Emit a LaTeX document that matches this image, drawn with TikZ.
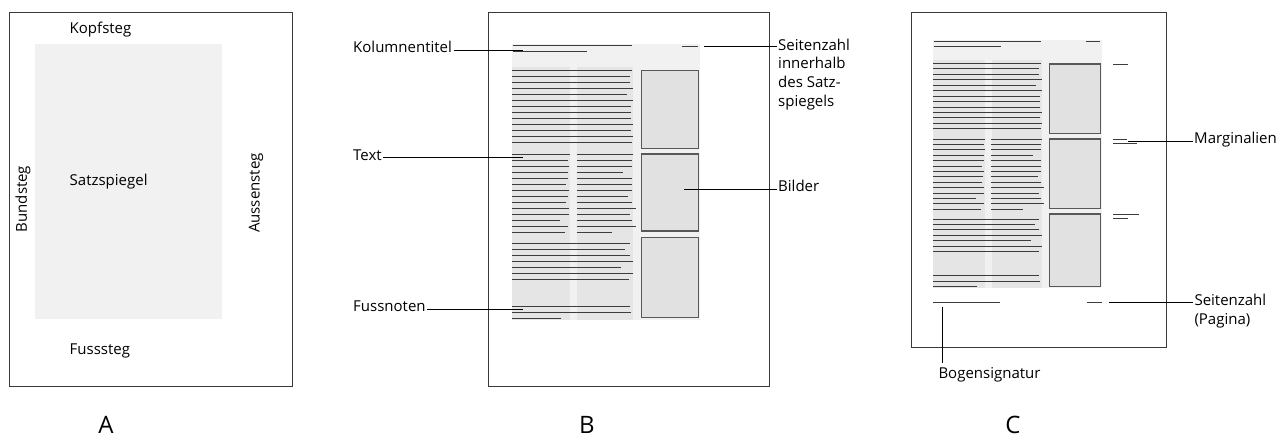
\documentclass[tikz,border=0pt]{standalone}
\usepackage{fontspec}
\setmainfont{Open Sans}
\usepackage{tikz}
\usetikzlibrary{positioning}
\usetikzlibrary{calc}

\definecolor{framegray}{HTML}{3A3A3A}
\definecolor{areagray}{HTML}{F1F1F1}
\definecolor{colgray}{HTML}{E5E5E5}
\definecolor{picgray}{HTML}{E1E1E1}
\definecolor{linegray}{HTML}{3C3C3C}

\tikzset{
  pageframe/.style={draw=framegray, line width=0.9pt},
  textline/.style={draw=linegray, line width=1.0pt},
  picbox/.style={draw=framegray!85, fill=picgray, line width=1.1pt},
  leader/.style={draw=black, line width=0.7pt},
  callout/.style={font=\fontsize{15}{18.7}\selectfont, inner sep=1.5pt},
  panelname/.style={font=\fontsize{24}{28}\selectfont, inner sep=0pt},
}

% Satzspiegel mit Kopfzeile, Text, Fussnoten und Bildern (Masse von Seite B)
\newcommand\satzblock{%
  % Flaeche und Spalten
  \fill[areagray] (0,0) rectangle (188,276);
  \fill[colgray] (0,22.7) rectangle (58,276);
  \fill[colgray] (65,22.7) rectangle (121,276);

  % Kopfzeile
  \draw[textline] (0.7,1.7) -- (119.7,1.7);
  \draw[textline] (0.7,7.3) -- (75,7.3);
  \draw[textline] (170,2) -- (186,2);

  % Text ueber beide Spalten
  \foreach \e [count=\i from 0] in {119.7,118,118,121.3,114.7,121.3,119,119,119,121.3,119,121.3,119.7}
    \draw[textline] (0,{26+6.06*\i}) -- (\e,{26+6.06*\i});

  % Text in zwei Spalten
  \foreach \a/\b [count=\i from 0] in {58/121,56.3/119.7,57.3/119.7,56.3/111.3,56.3/120.3,54/119.7,57/120.3,
                                       56/116.3,54.3/120.3,57/123.7,57/117.7,48/119.7,56.3/123.7,53.3/100.3}
  {
    \draw[textline] (0,{110+6*\i}) -- (\a,{110+6*\i});
    \draw[textline] (64.7,{110+6*\i}) -- (\b,{110+6*\i});
  }

  \foreach \e [count=\i from 0] in {118,113,118,121.3,109.3,121.3,117.3}
    \draw[textline] (0,{199+6*\i}) -- (\e,{199+6*\i});

  % Fussnoten
  \foreach \e [count=\i from 0] in {118,119,49}
    \draw[textline] (0,{262+6*\i}) -- (\e,{262+6*\i});

  % Bilder
  \foreach \t/\b in {26.7/104.3,110/187,193.3/273.7}
    \draw[picbox] (129.7,\t) rectangle (186.3,\b);
}

\begin{document}
\begin{tikzpicture}[x=1pt,y=-1pt]

  \useasboundingbox (0,0) rectangle (1282,437);

  % ---------------- A: Stege
  \draw[pageframe] (9.5,12.5) rectangle (292.5,386);
  \fill[areagray] (35,43.5) rectangle (221.5,319);

  \node[callout, anchor=mid west] (kopfsteg) at (68,31) {Kopfsteg};
  \node[callout, anchor=mid west] (satzspiegel) at (68,182.5) {Satzspiegel};
  \node[callout, anchor=mid west] (fusssteg) at (68,352) {Fusssteg};
  \node[callout, rotate=90] (bundsteg) at (23,199) {Bundsteg};
  \node[callout, rotate=90] (aussensteg) at (256,193) {Aussensteg};

  \node[panelname] (panel A) at (106,425) {A};

  % ---------------- B: Satzspiegel mit Seitenzahl innen
  \draw[pageframe] (488,12.5) rectangle (769,386);
  \begin{scope}[shift={(512,44)}]
    \satzblock
  \end{scope}

  \coordinate (kolumnentitel end) at (523,50);
  \coordinate (text end) at (523,157.7);
  \coordinate (fussnoten end) at (522.7,309);
  \coordinate (seitenzahl start) at (704,46);
  \coordinate (bilder start) at (684,189);

  \node[callout, anchor=mid west] (kolumnentitel) at (351.5,50) {Kolumnentitel};
  \node[callout, anchor=mid west] (text) at (351.5,157.7) {Text};
  \node[callout, anchor=mid west] (fussnoten) at (351.5,309) {Fussnoten};
  \node[callout, anchor=north west, align=left] (seitenzahl innen) at (776.5,37)
    {Seitenzahl\\innerhalb\\des Satz-\\spiegels};
  \node[callout, anchor=mid west] (bilder) at (776.5,189) {Bilder};

  \draw[leader] (kolumnentitel.mid east) -- (kolumnentitel end);
  \draw[leader] (text.mid east) -- (text end);
  \draw[leader] (fussnoten.mid east) -- (fussnoten end);
  \draw[leader] (seitenzahl start) -- (seitenzahl start -| seitenzahl innen.west);
  \draw[leader] (bilder start) -- (bilder.mid west);

  \node[panelname] (panel B) at (587,425) {B};

  % ---------------- C: Satzspiegel mit Marginalien
  \draw[pageframe] (911.7,12.5) rectangle (1166,347);
  \begin{scope}[shift={(933,40)}, scale=0.9]
    \satzblock
  \end{scope}

  % Marginalien, Bogensignatur und Pagina
  \draw[textline] (1113,64) -- (1128,64);
  \draw[textline] (1113,139) -- (1127,139);
  \draw[textline] (1113,143) -- (1137,143);
  \draw[textline] (1113,214) -- (1138.7,214);
  \draw[textline] (1113,218.3) -- (1127.7,218.3);
  \draw[textline] (933.3,302.7) -- (1000,302.7);
  \draw[textline] (1086.7,302.7) -- (1101.7,302.7);

  \coordinate (marginalien start) at (1128,141);
  \coordinate (pagina start) at (1109,302.7);
  \coordinate (bogensignatur start) at (942.7,306.7);

  \node[callout, anchor=mid west] (marginalien) at (1192.5,141) {Marginalien};
  \node[callout, anchor=north west, align=left] (pagina) at (1192.8,292.5)
    {Seitenzahl\\(Pagina)};
  \node[callout, anchor=north west] (bogensignatur) at (936.8,366) {Bogensignatur};

  \draw[leader] (marginalien start) -- (marginalien.mid west);
  \draw[leader] (pagina start) -- (pagina start -| pagina.west);
  \draw[leader, shorten >=3pt] (bogensignatur start) -- (bogensignatur start |- bogensignatur.north);

  \node[panelname] (panel C) at (1013,425) {C};

\end{tikzpicture}
\end{document}
